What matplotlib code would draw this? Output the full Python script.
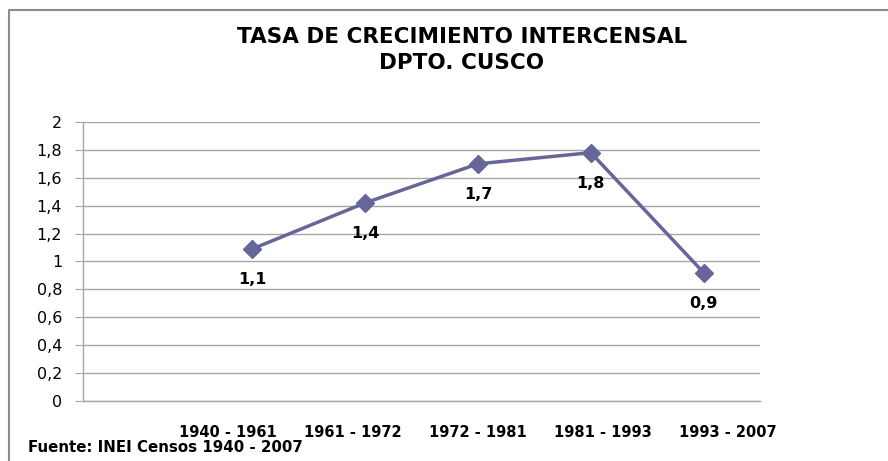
import matplotlib
matplotlib.use("Agg")
import matplotlib.pyplot as plt
from matplotlib.lines import Line2D

categories = ["1940 - 1961", "1961 - 1972", "1972 - 1981", "1981 - 1993", "1993 - 2007"]
values = [1.09, 1.42, 1.70, 1.78, 0.92]
yticks = [0, 0.2, 0.4, 0.6, 0.8, 1.0, 1.2, 1.4, 1.6, 1.8, 2.0]
ytick_labels = ["0", "0,2", "0,4", "0,6", "0,8", "1", "1,2", "1,4", "1,6", "1,8", "2"]
title = "TASA DE CRECIMIENTO INTERCENSAL\nDPTO. CUSCO"
footer = "Fuente: INEI Censos 1940 - 2007"

line_color = "#666699"
grid_color = "#a6a6a6"

fig = plt.figure(figsize=(8.88, 4.61), dpi=100)
ax = fig.add_axes([0.0935, 0.1302, 0.7624, 0.6052])

x = list(range(len(categories)))
ax.plot(x, values, color=line_color, lw=2.5, marker="D", ms=9,
        markerfacecolor=line_color, markeredgecolor=line_color, zorder=3)
for xi, v in zip(x, values):
    ax.annotate(f"{v:.1f}".replace(".", ","), (xi, v), xytext=(0, -22),
                textcoords="offset points", ha="center", va="center",
                fontsize=11.5, fontweight="bold", family="DejaVu Sans")

ax.set_xlim(-1.5, len(categories) - 0.5)
ax.set_ylim(0, 2)
ax.set_yticks(yticks)
ax.set_yticklabels(ytick_labels, fontsize=11.5, family="DejaVu Sans")
ax.tick_params(axis="y", length=6, color=grid_color, pad=9)
ax.set_xticks([])
ax.grid(axis="y", color=grid_color, lw=1)
ax.set_axisbelow(True)
for s in ["top", "right"]:
    ax.spines[s].set_visible(False)
for s in ["left", "bottom"]:
    ax.spines[s].set_color(grid_color)
    ax.spines[s].set_linewidth(1)

# category labels on a secondary scale (as positioned in the original)
ax2 = ax.twiny()
ax2.set_xlim(-1.16, 4.256)
ax2.xaxis.set_ticks_position("bottom")
ax2.xaxis.set_label_position("bottom")
ax2.set_xticks(x)
ax2.set_xticklabels(categories, fontsize=10.5, fontweight="bold", family="DejaVu Sans")
ax2.tick_params(axis="x", length=0, pad=17)
for s in ax2.spines.values():
    s.set_visible(False)

fig.text(0.520, 1 - 50 / 461, title, ha="center", va="center", fontsize=15.5,
         fontweight="bold", family="DejaVu Sans", linespacing=1.35)
fig.text(28 / 888, 1 - 447 / 461, footer, ha="left", va="center",
         fontsize=10.8, fontweight="bold", family="DejaVu Sans")

# chart-area border (top and left)
fig.add_artist(Line2D([9 / 888, 9 / 888, 1.0], [0.0, 1 - 10 / 461, 1 - 10 / 461],
                      transform=fig.transFigure, color="#8c8c8c", lw=1.5))

fig.savefig("out.png", dpi=100)
